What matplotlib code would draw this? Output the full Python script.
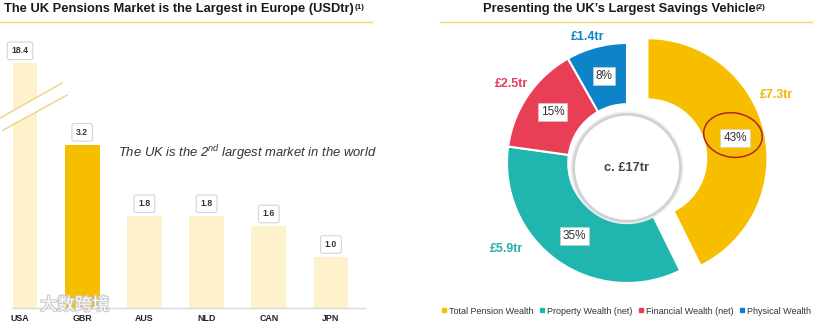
import matplotlib
matplotlib.use("Agg")
import matplotlib.pyplot as plt
import matplotlib.patheffects as pe
from matplotlib.patches import Circle, Ellipse, Polygon
from matplotlib.lines import Line2D
import numpy as np

plt.rcParams['font.family'] = ['Liberation Sans', 'DejaVu Sans']
plt.rcParams['mathtext.fontset'] = 'custom'
plt.rcParams['mathtext.it'] = 'Liberation Sans:italic'
plt.rcParams['mathtext.rm'] = 'Liberation Sans'

# ---------------- data ----------------
countries = ["USA", "GBR", "AUS", "NLD", "CAN", "JPN"]
pension_usdtr = [18.4, 3.2, 1.8, 1.8, 1.6, 1.0]
highlight = "GBR"

wealth_types = ["Total Pension Wealth", "Property Wealth (net)",
                "Financial Wealth (net)", "Physical Wealth"]
wealth_gbptr = [7.3, 5.9, 2.5, 1.4]
wealth_labels = ["£7.3tr", "£5.9tr", "£2.5tr", "£1.4tr"]
total_label = "c. £17tr"

# ---------------- style ----------------
W, H = 815, 322
fig = plt.figure(figsize=(W / 100, H / 100), dpi=100)

def fx(px):
    return px / W

def fy(py):
    return 1 - py / H

GOLD = "#F7BE00"
CREAM = "#FEF2CC"
LINE_GOLD = "#F0D878"
pie_colors = ["#F7BE00", "#21B5B0", "#E83F56", "#0C84C7"]
label_colors = ["#F2B700", "#27B0AB", "#E43F57", "#1283C3"]
cap = 4.8  # broken-axis display cap for the very large USA bar

# ---------------- titles ----------------
t1 = fig.text(fx(4), fy(9), "The UK Pensions Market is the Largest in Europe (USDtr)",
              fontsize=9.3, fontweight="bold", color="#1a1a1a", va="center", ha="left")
t2 = fig.text(fx(619), fy(9), "Presenting the UK\u2019s Largest Savings Vehicle",
              fontsize=9.3, fontweight="bold", color="#1a1a1a", va="center", ha="center")
fig.add_artist(Line2D([fx(0), fx(372)], [fy(21.5), fy(21.5)], color=LINE_GOLD, lw=1))
fig.add_artist(Line2D([fx(440), fx(812)], [fy(21.5), fy(21.5)], color=LINE_GOLD, lw=1))

# ---------------- bar chart ----------------
ax = fig.add_axes([fx(13), fy(308), fx(365) - fx(13), fy(22) - fy(308)])
x = np.arange(len(countries))
disp = [min(v, cap) for v in pension_usdtr]
cols = [GOLD if c == highlight else CREAM for c in countries]
ax.bar(x, disp, width=0.56, color=cols, zorder=2)
ax.set_xlim(-0.113, 5.547)
ax.set_ylim(0, 5.61)
ax.set_xticks(x)
ax.set_xticklabels(countries, fontsize=6.4, fontweight="bold", color="#222222")
ax.tick_params(axis="x", length=0, pad=4)
ax.set_yticks([])
for s in ["top", "left", "right"]:
    ax.spines[s].set_visible(False)
ax.spines["bottom"].set_color("#d9d9d9")
ax.spines["bottom"].set_linewidth(1)

for xi, d, v in zip(x, disp, pension_usdtr):
    ax.annotate(f"{v:.1f}", xy=(xi, d), xytext=(0, 9), textcoords="offset points",
                ha="center", va="center", fontsize=6.2, fontweight="bold", color="#333333",
                bbox=dict(boxstyle="round,pad=0.5,rounding_size=0.25", fc="white",
                          ec="#d4d4d4", lw=0.8), zorder=5)

# broken-axis marker across the USA bar
l1 = [(-0.322, 3.725), (0.675, 4.412)]
l2 = [(-0.273, 3.49), (0.756, 4.176)]
ax.add_patch(Polygon([l1[0], l1[1], l2[1], l2[0]], closed=True, fc="white", ec="none",
                     zorder=3, clip_on=False))
for l in (l1, l2):
    ax.plot([l[0][0], l[1][0]], [l[0][1], l[1][1]], color="#EED37E", lw=1,
            zorder=4, clip_on=False)

ax.text(fx(118), fy(153), "The UK is the 2$^{nd}$ largest market in the world",
        transform=fig.transFigure, fontsize=9.4, fontstyle="italic", color="#333333",
        ha="left", va="center")

# watermark
fig.text(fx(40), fy(305), "大数跨境", family=["Noto Sans CJK SC", "DejaVu Sans"],
         fontsize=12.5, color="white", va="center", ha="left", alpha=0.95,
         path_effects=[pe.withStroke(linewidth=1.6, foreground="#c8c8c8")])

# ---------------- donut ----------------
cx, cy = 627, 163
side = 360
pax = fig.add_axes([fx(cx - side / 2), fy(cy + side / 2), side / W, side / H])
wedges, texts, autotexts = pax.pie(
    wealth_gbptr, colors=pie_colors, startangle=90, counterclock=False,
    explode=[0.175, 0, 0, 0], radius=1.0, autopct="%.0f%%", pctdistance=0.75,
    wedgeprops=dict(width=0.51, edgecolor="white", linewidth=1.5),
    textprops=dict(fontsize=8.5, color="#333333"))
pax.set_xlim(-1.5, 1.5)
pax.set_ylim(-1.5, 1.5)
pax.set_aspect("equal")
pax.axis("off")
for w in wedges:
    w.set_clip_on(False)
for t in autotexts:
    t.set_bbox(dict(boxstyle="square,pad=0.25", fc="white", ec="#cccccc", lw=0.4))

pax.add_patch(Circle((0, -0.04), 0.47, fc="#eeeeee", ec="none", zorder=3))
pax.add_patch(Circle((0, -0.04), 0.445, fc="white", ec="#d2d2d2", lw=2.0, zorder=3))
pax.text(0, -0.04, total_label, ha="center", va="center", fontsize=9.3,
         fontweight="bold", color="#444444", zorder=4)

label_pos = [(1.25, 0.57), (-1.0, -0.72), (-0.96, 0.66), (-0.325, 1.05)]
for (lx, ly), lab, c in zip(label_pos, wealth_labels, label_colors):
    pax.text(lx, ly, lab, ha="center", va="center", fontsize=9, fontweight="bold",
             color=c, clip_on=False)

pax.add_patch(Ellipse((0.883, 0.233), 0.49, 0.37, angle=-8, fill=False,
                      ec="#B0262A", lw=1.1, zorder=5, clip_on=False))

# legend
handles = [Line2D([], [], marker="s", ls="none", ms=2.6, color=c) for c in pie_colors]
fig.legend(handles, wealth_types, loc="center", bbox_to_anchor=(fx(626), fy(311)),
           ncol=4, frameon=False, fontsize=6.5, handlelength=0.5, handletextpad=0.3,
           columnspacing=0.7, labelcolor="#333333", borderaxespad=0, borderpad=0)

# superscripts after titles
fig.canvas.draw()
for t, s in ((t1, "(1)"), (t2, "(2)")):
    bb = t.get_window_extent()
    fig.text(bb.x1 / W + fx(0.5), bb.y1 / H - 0.004, s, fontsize=5.8, fontweight="bold",
             color="#1a1a1a", va="top", ha="left")

fig.savefig("out.png", dpi=100)
